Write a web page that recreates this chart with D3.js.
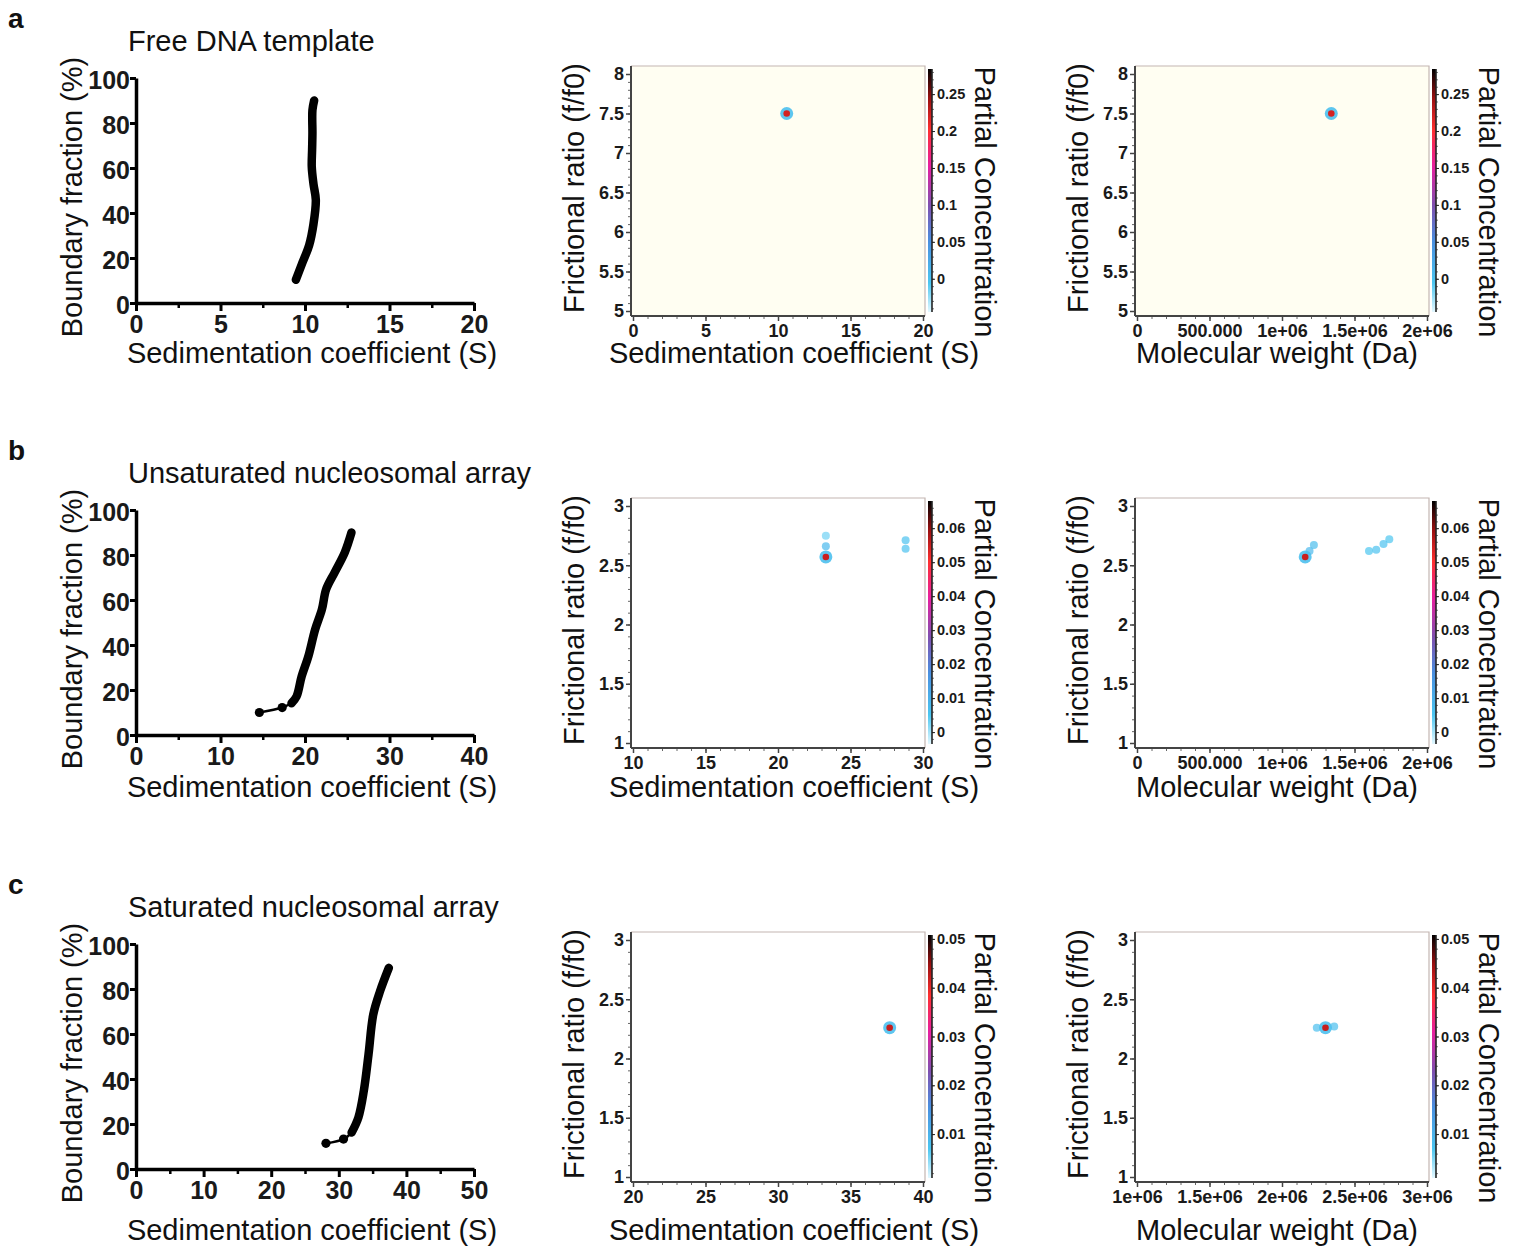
<!DOCTYPE html>
<html>
<head>
<meta charset="utf-8">
<script src="https://cdn.jsdelivr.net/npm/d3@7"></script>
<style>
  body { margin: 0; background: #fff; }
  svg { display: block; font-family: "Liberation Sans", Arial, sans-serif; }
</style>
</head>
<body>
<div id="chart"></div>
<script>
// === DATA ===
const panelLetters = ["a", "b", "c"];
const panelTitles = ["Free DNA template", "Unsaturated nucleosomal array", "Saturated nucleosomal array"];

// van Holde-Weischet: [S, boundary fraction %]; "lead" = first sparse scans
const vhwFreeLead = [];
const vhwFree = [[9.46, 10.3], [9.8, 17], [10.25, 25.8], [10.5, 35], [10.64, 45.8], [10.5, 53], [10.4, 60.6], [10.42, 68], [10.44, 75.3], [10.44, 85.7], [10.54, 90]];
const vhwUnsatLead = [[14.6, 10.0], [17.3, 12.2]];
const vhwUnsat = [[18.4, 14.1], [19.0, 17.1], [19.6, 26], [20.4, 35], [21.2, 46.9], [22.0, 55.8], [22.5, 64.7], [23.5, 72.2], [24.7, 81.1], [25.5, 90]];
const vhwSatLead = [[28.1, 11.4], [30.7, 13.3]];
const vhwSat = [[31.9, 16.2], [32.9, 22.9], [33.7, 34.7], [34.4, 51], [35.1, 68.7], [36.1, 79], [37.4, 89.4]];

const vhwXTicks = [[0, 5, 10, 15, 20], [0, 10, 20, 30, 40], [0, 10, 20, 30, 40, 50]];
const vhwYTicks = [0, 20, 40, 60, 80, 100];

// 2DSA maps
const sTicks = [[0, 5, 10, 15, 20], [10, 15, 20, 25, 30], [20, 25, 30, 35, 40]];
const mwTicks = [[0, 5e5, 1e6, 1.5e6, 2e6], [0, 5e5, 1e6, 1.5e6, 2e6], [1e6, 1.5e6, 2e6, 2.5e6, 3e6]];
const mwTickLabels = [
  ["0", "500.000", "1e+06", "1.5e+06", "2e+06"],
  ["0", "500.000", "1e+06", "1.5e+06", "2e+06"],
  ["1e+06", "1.5e+06", "2e+06", "2.5e+06", "3e+06"]
];
const ffTicks = [[5, 5.5, 6, 6.5, 7, 7.5, 8], [1, 1.5, 2, 2.5, 3], [1, 1.5, 2, 2.5, 3]];
const concTicks = [[0, 0.05, 0.1, 0.15, 0.2, 0.25], [0, 0.01, 0.02, 0.03, 0.04, 0.05, 0.06], [0.01, 0.02, 0.03, 0.04, 0.05]];
const concTickLabels = [
  ["0", "0.05", "0.1", "0.15", "0.2", "0.25"],
  ["0", "0.01", "0.02", "0.03", "0.04", "0.05", "0.06"],
  ["0.01", "0.02", "0.03", "0.04", "0.05"]
];
const concExtent = [[-0.045, 0.284], [-0.0035, 0.068], [0.001, 0.0508]];

// solutes: [s or MW, f/f0, partial concentration]
const solutesS = [
  [[10.6, 7.5, 0.22]],
  [[23.3, 2.75, 0.003], [23.3, 2.66, 0.008], [28.8, 2.64, 0.006], [28.8, 2.71, 0.006], [23.3, 2.57, 0.055]],
  [[37.7, 2.26, 0.042]]
];
const solutesMW = [
  [[1.34e6, 7.5, 0.22]],
  [[1.19e6, 2.62, 0.008], [1.22e6, 2.67, 0.007], [1.6e6, 2.62, 0.005], [1.65e6, 2.63, 0.006], [1.7e6, 2.68, 0.006], [1.74e6, 2.72, 0.005], [1.16e6, 2.57, 0.055]],
  [[2.24e6, 2.26, 0.008], [2.36e6, 2.27, 0.008], [2.3e6, 2.26, 0.042]]
];

const vhwLead = [vhwFreeLead, vhwUnsatLead, vhwSatLead];
const vhwMain = [vhwFree, vhwUnsat, vhwSat];

// === LAYOUT ===
const width = 1513, height = 1260;
const rowTop = [0, 432, 866];
const xLabelY = [363, 797, 1240];
const heatBg = ["#fffef2", "#ffffff", "#ffffff"];

// colour bar palette (fraction of bar height -> colour)
const barStops = [0, 0.12, 0.29, 0.44, 0.6, 0.75, 0.88, 1];
const barColors = ["#e4f8ff", "#4cc6f0", "#4a90e0", "#8050b0", "#e820a0", "#ff3030", "#9a1010", "#000000"];
const barColor = d3.scaleLinear().domain(barStops).range(barColors).interpolate(d3.interpolateRgb);

const svg = d3.select("#chart").append("svg")
  .attr("width", width).attr("height", height);

const defs = svg.append("defs");
const grad = defs.append("linearGradient").attr("id", "cbar")
  .attr("x1", 0).attr("y1", 1).attr("x2", 0).attr("y2", 0);
barStops.forEach((s, i) => grad.append("stop").attr("offset", s).attr("stop-color", barColors[i]));

function bigText(g, txt, x, y, rot) {
  return g.append("text").attr("transform", `translate(${x},${y}) rotate(${rot})`)
    .attr("text-anchor", "middle").attr("font-size", 29).attr("fill", "#111").text(txt);
}

function styleAxis(sel, size, weight) {
  sel.selectAll("text").attr("font-size", size).attr("font-weight", weight)
    .attr("fill", "#1a1a1a").attr("font-family", "Liberation Sans, Arial, sans-serif");
}

// === VHW PLOT ===
function drawVhw(g, i) {
  const xt = vhwXTicks[i];
  const x = d3.scaleLinear().domain([xt[0], xt[xt.length - 1]]).range([136, 474]);
  const y = d3.scaleLinear().domain([0, 100]).range([303, 78]);

  // minor x ticks at midpoints
  const minor = d3.pairs(xt).map(p => (p[0] + p[1]) / 2);
  g.append("g").attr("transform", "translate(0,303)")
    .call(d3.axisBottom(x).tickValues(minor).tickSize(5).tickFormat("").tickSizeOuter(0))
    .call(a => a.select(".domain").remove())
    .selectAll("line").attr("stroke", "#000").attr("stroke-width", 2.5);

  const xa = g.append("g").attr("transform", "translate(0,303)")
    .call(d3.axisBottom(x).tickValues(xt).tickSize(8).tickPadding(4).tickSizeOuter(0).tickFormat(d3.format("d")));
  xa.select(".domain").attr("stroke", "#000").attr("stroke-width", 3.5);
  xa.selectAll("line").attr("stroke", "#000").attr("stroke-width", 3);
  styleAxis(xa, 25, "bold");

  const ya = g.append("g").attr("transform", "translate(136,0)")
    .call(d3.axisLeft(y).tickValues(vhwYTicks).tickSize(6).tickPadding(0).tickSizeOuter(0));
  ya.select(".domain").attr("stroke", "#000").attr("stroke-width", 3.5);
  ya.selectAll("line").attr("stroke", "#000").attr("stroke-width", 3);
  styleAxis(ya, 25, "bold");
  ya.selectAll("text").attr("dy", "0.4em");

  const line = d3.line().x(d => x(d[0])).y(d => y(d[1])).curve(d3.curveCatmullRom);
  const lead = vhwLead[i], main = vhwMain[i];

  if (lead.length) {
    g.append("path").datum(lead.concat([main[0]])).attr("d", line)
      .attr("fill", "none").attr("stroke", "#000").attr("stroke-width", 2.5);
    g.selectAll(".lead").data(lead).enter().append("circle")
      .attr("cx", d => x(d[0])).attr("cy", d => y(d[1])).attr("r", 4.6).attr("fill", "#000");
  }
  g.append("path").datum(main).attr("d", line)
    .attr("fill", "none").attr("stroke", "#000").attr("stroke-width", 8.5)
    .attr("stroke-linecap", "round").attr("stroke-linejoin", "round");

  g.append("text").attr("x", 128).attr("y", 51).attr("font-size", 29).attr("fill", "#111").text(panelTitles[i]);
  bigText(g, "Boundary fraction (%)", 82, 197, -90);
}

// === HEAT MAP ===
function drawHeat(g, i, left, ticks, tickLabels, solutes, minorStep) {
  const frame = { l: left, r: left + 294, t: 66, b: 316 };
  const x = d3.scaleLinear().domain([ticks[0], ticks[ticks.length - 1]]).range([left + 2, left + 292]);
  const ft = ffTicks[i];
  const y = d3.scaleLinear().domain([ft[0], ft[ft.length - 1]]).range([311, 74]);

  g.append("rect").attr("x", frame.l).attr("y", frame.t)
    .attr("width", frame.r - frame.l).attr("height", frame.b - frame.t).attr("fill", heatBg[i]);
  g.append("path").attr("d", `M${frame.l},${frame.t}H${frame.r}V${frame.b}`)
    .attr("fill", "none").attr("stroke", "#c4b6b2").attr("stroke-width", 1.2);

  // solutes
  const ext = concExtent[i];
  const frac = d3.scaleLinear().domain(ext).range([0, 1]).clamp(true);
  const peak = d3.max(solutes, d => d[2]);
  const sorted = solutes.slice().sort((a, b) => a[2] - b[2]);
  sorted.forEach(d => {
    const cx = x(d[0]), cy = y(d[1]);
    if (d[2] >= peak * 0.5) {
      g.append("circle").attr("cx", cx).attr("cy", cy).attr("r", 6.5)
        .attr("fill", barColor(0.14)).attr("opacity", 0.9);
      g.append("circle").attr("cx", cx).attr("cy", cy).attr("r", 3.3)
        .attr("fill", barColor(frac(d[2])));
    } else {
      g.append("circle").attr("cx", cx).attr("cy", cy).attr("r", 4)
        .attr("fill", barColor(frac(d[2]))).attr("opacity", 0.7);
    }
  });

  // axes
  const xMinor = d3.range(ticks[0], ticks[ticks.length - 1] + minorStep / 2, minorStep);
  g.append("g").attr("transform", `translate(0,${frame.b})`)
    .call(d3.axisBottom(x).tickValues(xMinor).tickSize(3).tickFormat("").tickSizeOuter(0))
    .call(a => a.select(".domain").remove())
    .selectAll("line").attr("stroke", "#666").attr("stroke-width", 1);
  const xa = g.append("g").attr("transform", `translate(0,${frame.b})`)
    .call(d3.axisBottom(x).tickValues(ticks).tickSize(5).tickPadding(3).tickSizeOuter(0)
      .tickFormat((d, k) => tickLabels[k]));
  xa.select(".domain").attr("d", `M${frame.l},0H${frame.r}`).attr("stroke", "#444").attr("stroke-width", 2);
  xa.selectAll("line").attr("stroke", "#444").attr("stroke-width", 1.5);
  styleAxis(xa, 18, "bold");

  const yStep = (ft[1] - ft[0]) / 5;
  const yMinor = d3.range(ft[0], ft[ft.length - 1] + yStep / 2, yStep);
  g.append("g").attr("transform", `translate(${frame.l},0)`)
    .call(d3.axisLeft(y).tickValues(yMinor).tickSize(3).tickFormat("").tickSizeOuter(0))
    .call(a => a.select(".domain").remove())
    .selectAll("line").attr("stroke", "#666").attr("stroke-width", 1);
  const ya = g.append("g").attr("transform", `translate(${frame.l},0)`)
    .call(d3.axisLeft(y).tickValues(ft).tickSize(5).tickPadding(2).tickSizeOuter(0)
      .tickFormat(d3.format("~g")));
  ya.select(".domain").attr("d", `M0,${frame.t}V${frame.b}`).attr("stroke", "#444").attr("stroke-width", 2);
  ya.selectAll("line").attr("stroke", "#444").attr("stroke-width", 1.5);
  styleAxis(ya, 18, "bold");

  // colour bar
  const bx = frame.r + 3, bTop = 69, bBot = 312;
  const cScale = d3.scaleLinear().domain(ext).range([bBot, bTop]);
  g.append("rect").attr("x", bx).attr("y", bTop).attr("width", 4).attr("height", bBot - bTop)
    .attr("fill", "url(#cbar)");
  const ct = concTicks[i];
  const cStep = (ct[1] - ct[0]) / 5;
  const cMinor = d3.range(Math.ceil(ext[0] / cStep) * cStep, ext[1], cStep);
  g.append("g").attr("transform", `translate(${bx + 4},0)`)
    .call(d3.axisRight(cScale).tickValues(cMinor).tickSize(2).tickFormat("").tickSizeOuter(0))
    .call(a => a.select(".domain").remove())
    .selectAll("line").attr("stroke", "#555").attr("stroke-width", 0.8);
  const ca = g.append("g").attr("transform", `translate(${bx + 4},0)`)
    .call(d3.axisRight(cScale).tickValues(ct).tickSize(3).tickPadding(2).tickSizeOuter(0)
      .tickFormat((d, k) => concTickLabels[i][k]));
  ca.select(".domain").attr("d", `M0,${bTop}V${bBot}`).attr("stroke", "#222").attr("stroke-width", 1.6);
  ca.selectAll("line").attr("stroke", "#222").attr("stroke-width", 1);
  styleAxis(ca, 14.5, "bold");

  bigText(g, "Frictional ratio (f/f0)", left - 47, 188, -90);
  bigText(g, "Partial Concentration", frame.r + 50, 202, 90);
}

// === DRAW ROWS ===
panelLetters.forEach((letter, i) => {
  const g = svg.append("g").attr("transform", `translate(0,${rowTop[i]})`);
  g.append("text").attr("x", 8).attr("y", 28).attr("font-size", 28).attr("font-weight", "bold")
    .attr("fill", "#111").text(letter);

  drawVhw(g, i);
  drawHeat(g, i, 631, sTicks[i], sTicks[i].map(String), solutesS[i], 1);
  drawHeat(g, i, 1135, mwTicks[i], mwTickLabels[i], solutesMW[i], 100000);

  const ly = xLabelY[i] - rowTop[i];
  bigText(g, "Sedimentation coefficient (S)", 312, ly, 0);
  bigText(g, "Sedimentation coefficient (S)", 794, ly, 0);
  bigText(g, "Molecular weight (Da)", 1277, ly, 0);
});
</script>
</body>
</html>
